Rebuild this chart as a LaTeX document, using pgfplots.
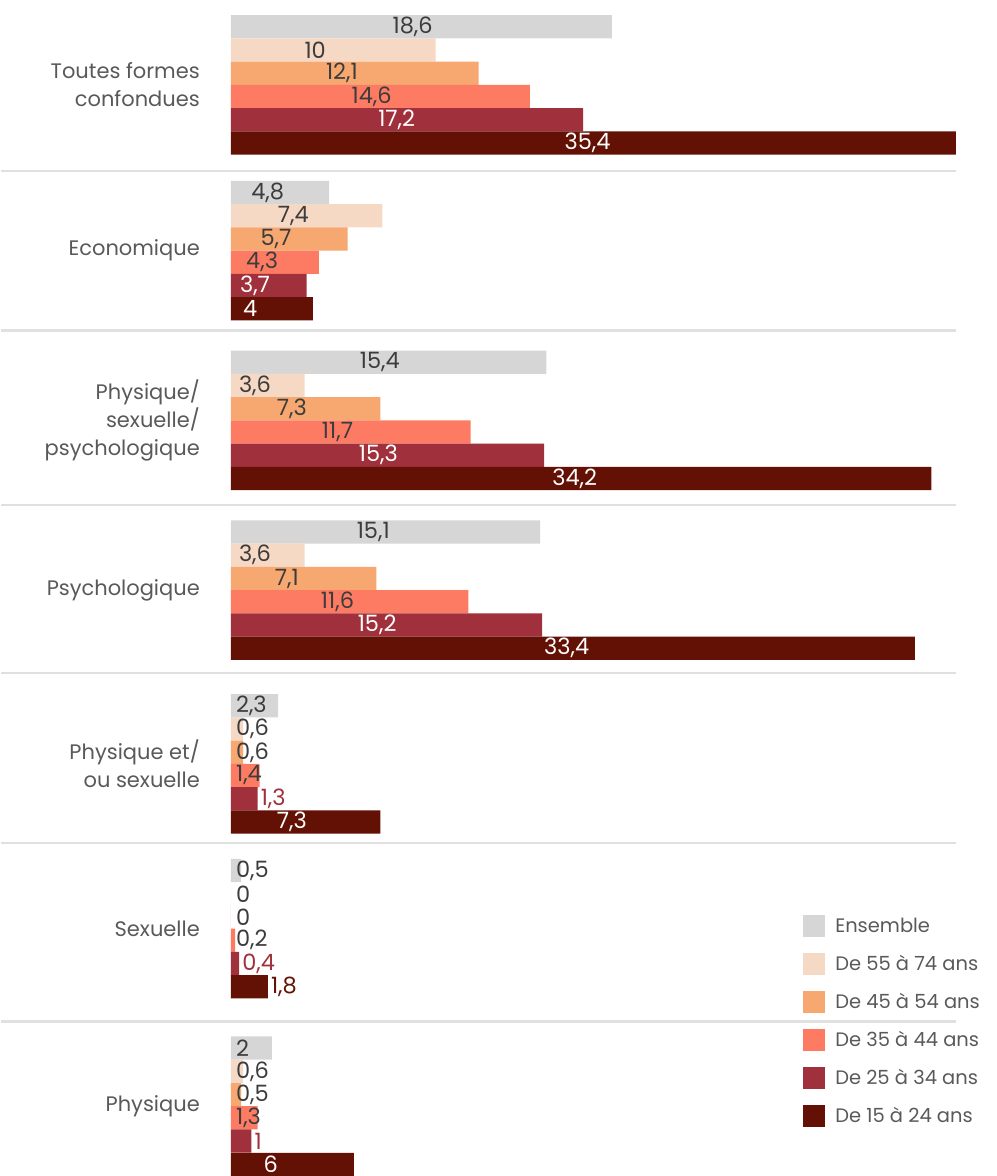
\documentclass[border=0pt]{standalone}
\usepackage{fontspec}
\setmainfont{Poppins}
\usepackage{pgfplots}
\pgfplotsset{compat=1.18}
\usepackage{pgfplotstable}

\definecolor{cEns}{HTML}{D6D6D6}
\definecolor{cA}{HTML}{F6D9C4}
\definecolor{cB}{HTML}{F6A870}
\definecolor{cC}{HTML}{FE7B63}
\definecolor{cD}{HTML}{A0303B}
\definecolor{cE}{HTML}{641105}
\definecolor{txt}{HTML}{3C3C3C}
\definecolor{cat}{HTML}{595959}
\definecolor{sep}{HTML}{E0E0E0}

% g = position of the group (top to bottom)
\pgfplotstableread{
g      ens   a55  a45  a35  a25  a15
0      18.6  10   12.1 14.6 17.2 35.4
0.975  4.8   7.4  5.7  4.3  3.7  4
1.973  15.4  3.6  7.3  11.7 15.3 34.2
2.971  15.1  3.6  7.1  11.6 15.2 33.4
3.993  2.3   0.6  0.6  1.4  1.3  7.3
4.962  0.5   0    0    0.2  0.4  1.8
6.006  2     0.6  0.5  1.3  1    6
}\data

\pgfplotsset{
  bb/.style={xbar, bar width=0.1368, draw=none, fill=#1,
    legend image code/.code={\fill[#1] (0pt,-11pt) rectangle (22pt,11pt);
      \path (32pt,0pt);}},
  lbl/.style={forget plot, draw=none, mark=none, point meta=explicit,
    nodes near coords={\pgfmathprintnumber[fixed,use comma,precision=1,assume math mode=true]{\pgfplotspointmeta}},
    every node near coord/.append style={anchor=west, inner sep=0pt,
      font=\fontsize{22.5}{22.5}\selectfont, text=#1}},
}

\begin{document}
\begin{tikzpicture}
\begin{axis}[
  scale only axis, width=726pt, height=1176pt,
  xmin=0, xmax=35.4,
  ymin=-0.4991, ymax=6.4063, y dir=reverse,
  axis line style={draw=none}, major tick length=0pt,
  xtick=\empty,
  ytick={0,0.975,1.973,2.971,3.993,4.962,6.006},
  yticklabels={{Toutes formes\\confondues}, Economique, {Physique/\\sexuelle/\\psychologique},
    Psychologique, {Physique et/\\ou sexuelle}, Sexuelle, Physique},
  yticklabel style={align=right, font=\fontsize{21}{28}\selectfont, text=cat,
    inner sep=0pt, xshift=-31pt},
  clip=false,
  legend style={at={(0.7893,0.2211)}, anchor=north west, draw=none, fill=none,
    inner sep=0pt, row sep=16pt, font=\fontsize{19.5}{19.5}\selectfont, text=cat,
    nodes={inner sep=0pt}},
  legend cell align=left,
]
% separators
\draw[sep, line width=2.5pt] (axis cs:-11.215,0.505) -- (axis cs:35.4,0.505);
\draw[sep, line width=2.5pt] (axis cs:-11.215,1.444) -- (axis cs:35.4,1.444);
\draw[sep, line width=2.5pt] (axis cs:-11.215,2.472) -- (axis cs:35.4,2.472);
\draw[sep, line width=2.5pt] (axis cs:-11.215,3.459) -- (axis cs:35.4,3.459);
\draw[sep, line width=2.5pt] (axis cs:-11.215,4.457) -- (axis cs:35.4,4.457);
\draw[sep, line width=2.5pt] (axis cs:-11.215,5.508) -- (axis cs:35.4,5.508);
\path (rel axis cs:-0.3168,0) rectangle (rel axis cs:1.0565,1);

% bars
\addplot[bb=cEns, bar shift=-0.342] table[x=ens, y=g]{\data};
\addplot[bb=cA, bar shift=-0.205] table[x=a55, y=g]{\data};
\addplot[bb=cB, bar shift=-0.068] table[x=a45, y=g]{\data};
\addplot[bb=cC, bar shift=0.068] table[x=a35, y=g]{\data};
\addplot[bb=cD, bar shift=0.205] table[x=a25, y=g]{\data};
\addplot[bb=cE, bar shift=0.342] table[x=a15, y=g]{\data};
\legend{Ensemble, De 55 à 74 ans, De 45 à 54 ans, De 35 à 44 ans, De 25 à 34 ans, De 15 à 24 ans}

% value labels
\addplot[lbl=txt] table[x expr={max(\thisrow{ens}/2-1.414,0.244)}, y expr={\thisrow{g}-0.342}, meta=ens]{\data};
\addplot[lbl=txt] table[x expr={max(\thisrow{a55}/2-1.414,0.244)}, y expr={\thisrow{g}-0.205}, meta=a55]{\data};
\addplot[lbl=txt] table[x expr={max(\thisrow{a45}/2-1.414,0.244)}, y expr={\thisrow{g}-0.068}, meta=a45]{\data};
\addplot[lbl=txt] table[x expr={max(\thisrow{a35}/2-1.414,0.244)}, y expr={\thisrow{g}+0.068}, meta=a35]{\data};
\addplot[lbl=white, restrict expr to domain={\thisrow{a25}}{3.3:100}] table[x expr={\thisrow{a25}/2-1.414}, y expr={\thisrow{g}+0.205}, meta=a25]{\data};
\addplot[lbl=cD, restrict expr to domain={\thisrow{a25}}{0:3.3}] table[x expr={\thisrow{a25}+0.15}, y expr={\thisrow{g}+0.205}, meta=a25]{\data};
\addplot[lbl=white, restrict expr to domain={\thisrow{a15}}{3.3:100}] table[x expr={\thisrow{a15}/2-1.414}, y expr={\thisrow{g}+0.342}, meta=a15]{\data};
\addplot[lbl=cE, restrict expr to domain={\thisrow{a15}}{0:3.3}] table[x expr={\thisrow{a15}+0.15}, y expr={\thisrow{g}+0.342}, meta=a15]{\data};
\end{axis}
\end{tikzpicture}
\end{document}
